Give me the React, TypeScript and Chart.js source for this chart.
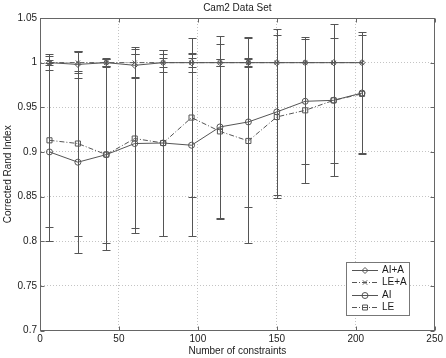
import React, { useEffect, useRef } from 'react';
import { Chart, registerables } from 'chart.js';

Chart.register(...registerables);

const titleText = 'Cam2 Data Set';
const xTitle = 'Number of constraints';
const yTitle = 'Corrected Rand Index';
const seriesLabels = ['AI+A', 'LE+A', 'AI', 'LE'];

const constraints = [6, 24, 42, 60, 78, 96, 114, 132, 150, 168, 186, 204];
const aiA = [1.0, 0.998, 1.0, 0.997, 1.0, 1.0, 1.0, 1.0, 1.0, 1.0, 1.0, 1.0];
const aiAErr = [0.008, 0.015, 0.005, 0.013, 0.005, 0.005, 0.004, 0.005, 0.0, 0.0, 0.0, 0.0];
const leA = [1.0, 1.0, 1.0, 1.0, 1.0, 1.0, 1.0, 1.0, 1.0, 1.0, 1.0, 1.0];
const leAErr = [0.003, 0.012, 0.004, 0.017, 0.01, 0.011, 0.004, 0.004, 0.0, 0.0, 0.0, 0.0];
const ai = [0.9, 0.8885, 0.897, 0.9094, 0.91, 0.9075, 0.928, 0.9336, 0.9448, 0.9567, 0.9578, 0.966];
const aiErr = [0.0995, 0.102, 0.107, 0.1004, 0.104, 0.102, 0.102, 0.095, 0.0925, 0.0697, 0.07, 0.068];
const le = [0.913, 0.9094, 0.897, 0.915, 0.91, 0.9385, 0.923, 0.9123, 0.9392, 0.9466, 0.9578, 0.965];
const leErr = [0.097, 0.1037, 0.099, 0.1007, 0.104, 0.0895, 0.098, 0.1148, 0.0913, 0.0819, 0.085, 0.066];

const xTicks = [0, 50, 100, 150, 200, 250];
const yTicks = [0.7, 0.75, 0.8, 0.85, 0.9, 0.95, 1.0, 1.05];

const FONT = 'Liberation Sans, Arial, Helvetica, sans-serif';
const LINE = '#555555';
const TEXT = '#1a1a1a';
const DASHDOT = [5, 2, 1, 2];

const seriesValues = [aiA, leA, ai, le];
const seriesErrs = [aiAErr, leAErr, aiErr, leErr];
const seriesMarkers = ['rectRot', 'crossRot', 'circle', 'rect'];
const seriesDash = [[], DASHDOT, [], DASHDOT];

function drawMarker(ctx: CanvasRenderingContext2D, style: string, x: number, y: number) {
  ctx.beginPath();
  if (style === 'circle') {
    ctx.arc(x, y, 3, 0, Math.PI * 2);
  } else if (style === 'rect') {
    ctx.rect(x - 2.5, y - 2.5, 5, 5);
  } else if (style === 'rectRot') {
    ctx.moveTo(x, y - 3);
    ctx.lineTo(x + 3, y);
    ctx.lineTo(x, y + 3);
    ctx.lineTo(x - 3, y);
    ctx.closePath();
  } else if (style === 'crossRot') {
    ctx.moveTo(x - 2.2, y - 2.2);
    ctx.lineTo(x + 2.2, y + 2.2);
    ctx.moveTo(x + 2.2, y - 2.2);
    ctx.lineTo(x - 2.2, y + 2.2);
  }
  ctx.stroke();
}

const errorBarPlugin = {
  id: 'errorBars',
  beforeDatasetsDraw(chart: any) {
    const { ctx, scales } = chart;
    const xs = scales.x;
    const ys = scales.y;
    ctx.save();
    ctx.strokeStyle = LINE;
    ctx.lineWidth = 1;
    ctx.setLineDash([]);
    seriesValues.forEach((vals, si) => {
      const errs = seriesErrs[si];
      vals.forEach((v, i) => {
        const e = errs[i];
        if (!e) return;
        const px = Math.round(xs.getPixelForValue(constraints[i])) + 0.5;
        const top = Math.round(ys.getPixelForValue(v + e)) + 0.5;
        const bot = Math.round(ys.getPixelForValue(v - e)) + 0.5;
        ctx.beginPath();
        ctx.moveTo(px, top);
        ctx.lineTo(px, bot);
        ctx.moveTo(px - 4, top);
        ctx.lineTo(px + 4, top);
        ctx.moveTo(px - 4, bot);
        ctx.lineTo(px + 4, bot);
        ctx.stroke();
      });
    });
    ctx.restore();
  },
};

const frameLegendPlugin = {
  id: 'frameLegend',
  afterDraw(chart: any) {
    const { ctx, chartArea: a, scales } = chart;
    const L = Math.round(a.left) + 0.5;
    const R = Math.round(a.right) - 0.5;
    const T = Math.round(a.top) + 0.5;
    const B = Math.round(a.bottom) - 0.5;
    ctx.save();
    ctx.strokeStyle = '#666666';
    ctx.lineWidth = 1;
    ctx.setLineDash([]);
    ctx.strokeRect(L, T, R - L, B - T);
    ctx.beginPath();
    yTicks.forEach((t) => {
      const py = Math.round(scales.y.getPixelForValue(t)) + 0.5;
      ctx.moveTo(L, py);
      ctx.lineTo(L + 4, py);
      ctx.moveTo(R, py);
      ctx.lineTo(R - 4, py);
    });
    xTicks.forEach((t) => {
      const px = Math.round(scales.x.getPixelForValue(t)) + 0.5;
      ctx.moveTo(px, B);
      ctx.lineTo(px, B - 4);
      ctx.moveTo(px, T);
      ctx.lineTo(px, T + 4);
    });
    ctx.stroke();

    // legend box
    const lx = 346.5, ly = 262.5, lw = 63, lh = 53;
    ctx.fillStyle = '#ffffff';
    ctx.fillRect(lx, ly, lw, lh);
    ctx.strokeStyle = '#777777';
    ctx.strokeRect(lx, ly, lw, lh);
    const rows = [269.5, 282, 294.5, 307];
    ctx.font = `10px ${FONT}`;
    ctx.textBaseline = 'middle';
    ctx.textAlign = 'left';
    seriesLabels.forEach((lab, i) => {
      const yy = Math.round(rows[i]) + 0.5;
      ctx.strokeStyle = LINE;
      ctx.setLineDash(seriesDash[i]);
      ctx.beginPath();
      ctx.moveTo(352, yy);
      ctx.lineTo(378, yy);
      ctx.stroke();
      ctx.setLineDash([]);
      drawMarker(ctx, seriesMarkers[i], 365, yy);
      ctx.fillStyle = TEXT;
      ctx.fillText(lab, 382, yy);
    });
    ctx.restore();
  },
};

export default function App() {
  const ref = useRef<HTMLCanvasElement | null>(null);
  useEffect(() => {
    document.body.style.margin = '0';
    const canvas = ref.current;
    if (!canvas) return;
    const datasets = seriesLabels.map((lab, si) => ({
      label: lab,
      data: constraints.map((c, i) => ({ x: c, y: seriesValues[si][i] })),
      borderColor: LINE,
      backgroundColor: 'transparent',
      borderWidth: 1,
      borderDash: seriesDash[si],
      pointStyle: seriesMarkers[si],
      pointRadius: seriesMarkers[si] === 'rect' ? 3.6 : 3,
      pointBorderColor: LINE,
      pointBackgroundColor: 'transparent',
      pointBorderWidth: 1,
      tension: 0,
      fill: false,
    }));
    const chart = new Chart(canvas, {
      type: 'line',
      data: { datasets },
      options: {
        animation: false,
        responsive: false,
        maintainAspectRatio: false,
        layout: { padding: { left: 0, right: 8, top: 0, bottom: 0 } },
        plugins: {
          legend: { display: false },
          tooltip: { enabled: false },
          title: {
            display: true,
            text: titleText,
            fullSize: false,
            color: TEXT,
            font: { family: FONT, size: 10, weight: 'normal' },
            padding: { top: 2, bottom: 4 },
          },
        },
        scales: {
          x: {
            type: 'linear',
            min: 0,
            max: 250,
            afterFit: (s: any) => { s.height = 27.5; },
            afterBuildTicks: (s: any) => { s.ticks = xTicks.map((v) => ({ value: v })); },
            ticks: {
              color: TEXT,
              font: { family: FONT, size: 10 },
              padding: 3,
              maxRotation: 0,
              callback: (v: any) => String(v),
            },
            grid: { color: '#c4c4c4', drawTicks: false, lineWidth: 1 },
            border: { display: true, color: '#666666', dash: [1, 2] },
            title: {
              display: true,
              text: xTitle,
              color: TEXT,
              font: { family: FONT, size: 10 },
              padding: { top: 0, bottom: 1 },
            },
          },
          y: {
            type: 'linear',
            min: 0.7,
            max: 1.05,
            afterFit: (s: any) => { s.width = 40; },
            afterBuildTicks: (s: any) => { s.ticks = yTicks.map((v) => ({ value: v })); },
            ticks: {
              color: TEXT,
              font: { family: FONT, size: 10 },
              padding: 3,
              callback: (v: any) => String(Number(Number(v).toFixed(2))),
            },
            grid: { color: '#c4c4c4', drawTicks: false, lineWidth: 1 },
            border: { display: true, color: '#666666', dash: [1, 2] },
            title: {
              display: true,
              text: yTitle,
              color: TEXT,
              font: { family: FONT, size: 10 },
              padding: { top: 2, bottom: 0 },
            },
          },
        },
      },
      plugins: [errorBarPlugin, frameLegendPlugin],
    } as any);
    return () => chart.destroy();
  }, []);
  return (
    <div style={{ position: 'absolute', left: 0, top: 0, width: 446, height: 358, background: '#fff' }}>
      <canvas ref={ref} width={446} height={358} style={{ display: 'block', width: 446, height: 358 }} />
    </div>
  );
}
